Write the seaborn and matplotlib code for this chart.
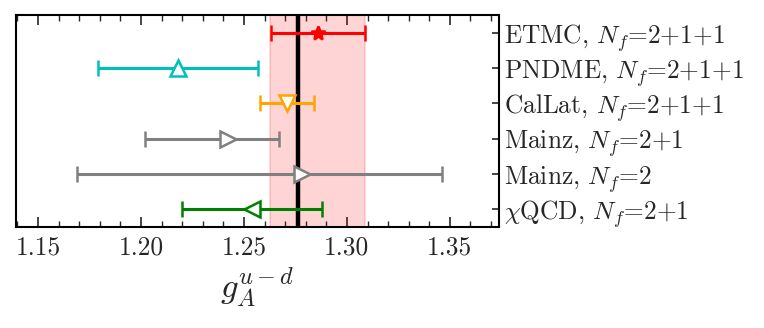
import numpy as np
import matplotlib
matplotlib.use("Agg")
import matplotlib.pyplot as plt
from matplotlib.ticker import MultipleLocator
import seaborn as sns

labels = ["ETMC, $N_f$=2+1+1", "PNDME, $N_f$=2+1+1", "CalLat, $N_f$=2+1+1",
          "Mainz, $N_f$=2+1", "Mainz, $N_f$=2", r"$\chi$QCD, $N_f$=2+1"]
values = [1.286, 1.218, 1.271, 1.242, 1.278, 1.254]
err_lo = [0.023, 0.039, 0.013, 0.040, 0.109, 0.034]
err_hi = [0.023, 0.039, 0.013, 0.025, 0.068, 0.034]
colors = ["#ff0000", "#00bfbf", "#ffa500", "#808080", "#808080", "#008000"]
markers = ["*", "^", "v", ">", ">", "<"]
band = (1.2626, 1.309)
pdg = 1.2761

sns.set_theme(style="ticks")
plt.rcParams["font.family"] = "serif"
plt.rcParams["font.serif"] = ["cmr10", "DejaVu Serif"]
plt.rcParams["mathtext.fontset"] = "cm"
plt.rcParams["axes.formatter.use_mathtext"] = True

fig = plt.figure(figsize=(7.64, 3.28), dpi=100)
ax = fig.add_axes([0.021, 0.308, 0.632, 0.646])

ax.axvspan(band[0], band[1], color="#ff0000", alpha=0.17, lw=1.2, zorder=1)
ax.axvline(pdg, color="black", lw=3.2, zorder=2)

n = len(values)
ypos = np.arange(n)[::-1]
for i in range(n):
    if markers[i] == "*":
        mfc, ms = colors[i], 10.5
    else:
        mfc, ms = "white", 11.5
    ax.errorbar(values[i], ypos[i], xerr=[[err_lo[i]], [err_hi[i]]],
                fmt=markers[i], color=colors[i], mfc=mfc, mec=colors[i],
                mew=1.8, ms=ms, elinewidth=2.2, capsize=5.5, capthick=2.0,
                zorder=3)

ax.set_xlim(1.1393, 1.3738)
ax.set_ylim(-0.5, n - 0.5)
ax.set_yticks(ypos)
ax.set_yticklabels(labels)
ax.xaxis.set_major_locator(MultipleLocator(0.05))
ax.xaxis.set_minor_locator(MultipleLocator(0.01))
ax.xaxis.set_major_formatter(matplotlib.ticker.FormatStrFormatter("%.2f"))
ax.tick_params(axis="x", which="major", direction="in", top=True, bottom=True,
               length=7, width=1.2, labelsize=18.3, pad=6)
ax.tick_params(axis="x", which="minor", direction="in", top=True, bottom=True,
               length=4, width=1.0)
ax.tick_params(axis="y", which="major", direction="in", left=False, right=True,
               labelleft=False, labelright=True, length=5, width=1.2,
               labelsize=18.3, pad=4)
for s in ax.spines.values():
    s.set_linewidth(1.5)
    s.set_color("black")
ax.set_xlabel(r"$g_A^{u-d}$", fontsize=25, labelpad=5)

fig.savefig("out.png", dpi=100)
